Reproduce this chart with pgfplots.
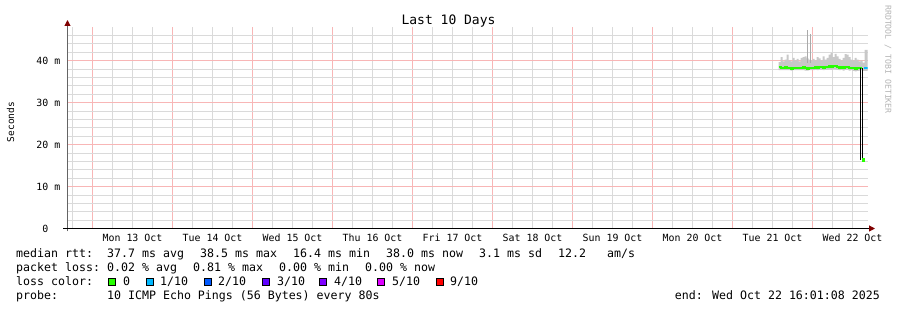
\documentclass[border=0pt]{standalone}
\usepackage{fontspec}
\setmainfont{DejaVu Sans Mono}
\usepackage{pgfplots}
\usepackage{pgfplotstable}
\pgfplotsset{compat=1.18}
\usepgfplotslibrary{fillbetween}
\usetikzlibrary{arrows.meta}
\definecolor{mgrid}{RGB}{248,182,182}
\definecolor{mingrid}{RGB}{218,218,218}
\definecolor{smoke}{RGB}{200,200,200}
\definecolor{spike}{RGB}{170,170,170}
\definecolor{loss0}{HTML}{26FF00}
\definecolor{loss1}{HTML}{00B8FF}
\definecolor{loss2}{HTML}{0059FF}
\definecolor{loss3}{HTML}{5E00FF}
\definecolor{loss4}{HTML}{7E00FF}
\definecolor{loss5}{HTML}{DD00FF}
\definecolor{loss9}{HTML}{FF0000}
\definecolor{arrowred}{RGB}{128,0,0}
\definecolor{yaxis}{RGB}{100,100,100}
\definecolor{credit}{RGB}{180,180,180}

\pgfplotstableread{
x lo up
8.575 37.7 39.6
8.600 37.7 40.8
8.625 37.7 39.8
8.650 37.7 40.2
8.675 37.7 41.4
8.700 37.7 40.0
8.725 37.6 39.8
8.750 37.7 40.6
8.775 37.7 40.0
8.800 37.7 40.4
8.825 37.7 39.8
8.850 37.7 40.6
8.875 37.7 40.8
8.900 37.6 41.0
8.925 37.6 40.5
8.950 37.7 40.2
8.975 37.7 40.0
9.000 37.7 40.4
9.025 37.8 40.0
9.050 37.7 40.8
9.075 37.8 40.5
9.100 37.8 40.0
9.125 37.7 41.0
9.150 37.8 40.2
9.175 37.8 40.6
9.200 37.9 41.4
9.225 37.8 41.8
9.250 38.0 40.8
9.275 37.9 41.6
9.300 37.8 41.0
9.325 37.7 40.4
9.350 37.8 40.0
9.375 37.6 40.6
9.400 37.8 41.5
9.425 37.8 41.4
9.450 37.6 40.8
9.475 37.7 40.2
9.500 37.5 40.0
9.525 37.4 40.6
9.550 37.5 40.2
9.575 37.6 39.8
9.600 37.7 40.0
9.625 37.5 39.5
9.650 37.5 42.5
9.6875 37.5 42.5
}\smoke

\pgfplotstableread{
x med
8.575 38.4
8.600 38.3
8.625 38.3
8.650 38.4
8.675 38.2
8.700 38.2
8.725 38.0
8.750 38.1
8.775 38.3
8.800 38.3
8.825 38.2
8.850 38.3
8.875 38.4
8.900 38.1
8.925 38.0
8.950 38.2
8.975 38.3
9.000 38.2
9.025 38.5
9.050 38.3
9.075 38.4
9.100 38.5
9.125 38.3
9.150 38.4
9.175 38.4
9.200 38.6
9.225 38.5
9.250 38.7
9.275 38.6
9.300 38.5
9.325 38.3
9.350 38.4
9.375 38.2
9.400 38.5
9.425 38.4
9.450 38.2
9.475 38.3
9.500 38.1
9.525 37.9
9.550 38.1
9.575 38.2
9.600 38.3
9.605 38.3
}\median

\begin{document}\pagecolor{white}%
\begin{tikzpicture}
\path (0pt,0pt) rectangle (897pt,310pt);
\begin{axis}[
  at={(67.5pt,81.5pt)}, anchor=south west,
  scale only axis, width=800pt, height=201.6pt,
  xmin=-0.3125, xmax=9.6875, ymin=0, ymax=48,
  axis line style={draw=none},
  xtick={0,...,9}, xticklabels={},
  minor xtick={-0.25,0.25,0.5,0.75,1.25,1.5,1.75,2.25,2.5,2.75,3.25,3.5,3.75,4.25,4.5,4.75,5.25,5.5,5.75,6.25,6.5,6.75,7.25,7.5,7.75,8.25,8.5,8.75,9.25,9.5},
  extra x ticks={0.5,1.5,2.5,3.5,4.5,5.5,6.5,7.5,8.5,9.5},
  extra x tick labels={Mon 13 Oct,Tue 14 Oct,Wed 15 Oct,Thu 16 Oct,Fri 17 Oct,Sat 18 Oct,Sun 19 Oct,Mon 20 Oct,Tue 21 Oct,Wed 22 Oct},
  extra x tick style={grid=none},
  ytick={0,10,20,30,40}, yticklabels={0\hphantom{ m},10 m,20 m,30 m,40 m},
  minor ytick={2,4,6,8,12,14,16,18,22,24,26,28,32,34,36,38,42,44,46},
  grid=both,
  major grid style={mgrid, line width=1pt},
  minor grid style={mingrid, line width=0.6pt},
  major tick length=0pt, minor tick length=0pt,
  tick label style={font=\fontsize{9.9}{12}\selectfont, text=black},
  yticklabel style={anchor=east, inner sep=0pt, xshift=-7pt},
  xticklabel style={anchor=north, inner sep=0pt, yshift=-5.5pt},
]
\addplot[name path=up, draw=none, const plot] table[x=x,y=up]{\smoke};
\addplot[name path=lo, draw=none, const plot] table[x=x,y=lo]{\smoke};
\addplot[smoke] fill between[of=up and lo];
\addplot[spike, line width=1.3pt] coordinates {(8.934,39.5) (8.934,47.3)};
\addplot[spike, line width=1.3pt] coordinates {(8.975,39.5) (8.975,46.4)};
\addplot[loss0, line width=2pt, const plot] table[x=x,y=med]{\median};
\addplot[black, line width=1.3pt] coordinates {(9.604,38.3) (9.604,16.4)};
\addplot[black, line width=1.3pt] coordinates {(9.629,16.4) (9.629,38.1)};
\addplot[loss0, only marks, mark=square*, mark size=1.1pt] coordinates {(9.632,16.4)};
\addplot[loss1, line width=2pt] coordinates {(9.645,38.1) (9.6875,38.1)};
\end{axis}
\begin{scope}[x=1pt,y=1pt]
% axes
\draw[yaxis, line width=1pt, -{Triangle[length=6pt,width=6pt,color=arrowred]}] (67.5,78.5) -- (67.5,290);
\draw[black, line width=1pt, -{Triangle[length=6pt,width=6pt,color=arrowred]}] (63,81.5) -- (875,81.5);
% title and labels
\node[anchor=base, inner sep=0pt, font=\fontsize{13}{15}\selectfont] at (448.5,285) {Last 10 Days};
\node[rotate=90, inner sep=0pt, font=\fontsize{9.5}{12}\selectfont] at (10.5,188) {Seconds};
\node[rotate=-90, anchor=west, inner sep=0pt, text=credit, font=\fontsize{8.2}{10}\selectfont] at (888,305) {RRDTOOL / TOBI OETIKER};
% legend rows
\begin{scope}[every node/.style={anchor=base west, inner sep=0pt, font=\fontsize{11.6}{14}\selectfont}]
\node at (16,52) {median rtt:};
\node at (107,52) {37.7 ms avg};
\node at (200,52) {38.5 ms max};
\node at (293,52) {16.4 ms min};
\node at (386,52) {38.0 ms now};
\node at (479,52) {3.1 ms sd};
\node at (558,52) {12.2};
\node at (607,52) {am/s};
\node at (16,38) {packet loss:};
\node at (107,38) {0.02 \% avg};
\node at (193,38) {0.81 \% max};
\node at (279,38) {0.00 \% min};
\node at (365,38) {0.00 \% now};
\node at (16,24) {loss color:};
\node at (123,24) {0};
\node at (160,24) {1/10};
\node at (218,24) {2/10};
\node at (277,24) {3/10};
\node at (334,24) {4/10};
\node at (392,24) {5/10};
\node at (450,24) {9/10};
\node at (16,10) {probe:};
\node at (107,10) {10 ICMP Echo Pings (56 Bytes) every 80s};
\node[anchor=base east] at (880,10) {end: Wed Oct 22 16:01:08 2025};
\end{scope}
\begin{scope}[draw=black, line width=0.8pt]
\filldraw[fill=loss0] (108.5,24.5) rectangle (115.5,31.5);
\filldraw[fill=loss1] (146.5,24.5) rectangle (153.5,31.5);
\filldraw[fill=loss2] (204.5,24.5) rectangle (211.5,31.5);
\filldraw[fill=loss3] (262.5,24.5) rectangle (269.5,31.5);
\filldraw[fill=loss4] (319.5,24.5) rectangle (326.5,31.5);
\filldraw[fill=loss5] (377.5,24.5) rectangle (384.5,31.5);
\filldraw[fill=loss9] (436.5,24.5) rectangle (443.5,31.5);
\end{scope}
\end{scope}
\end{tikzpicture}
\end{document}
